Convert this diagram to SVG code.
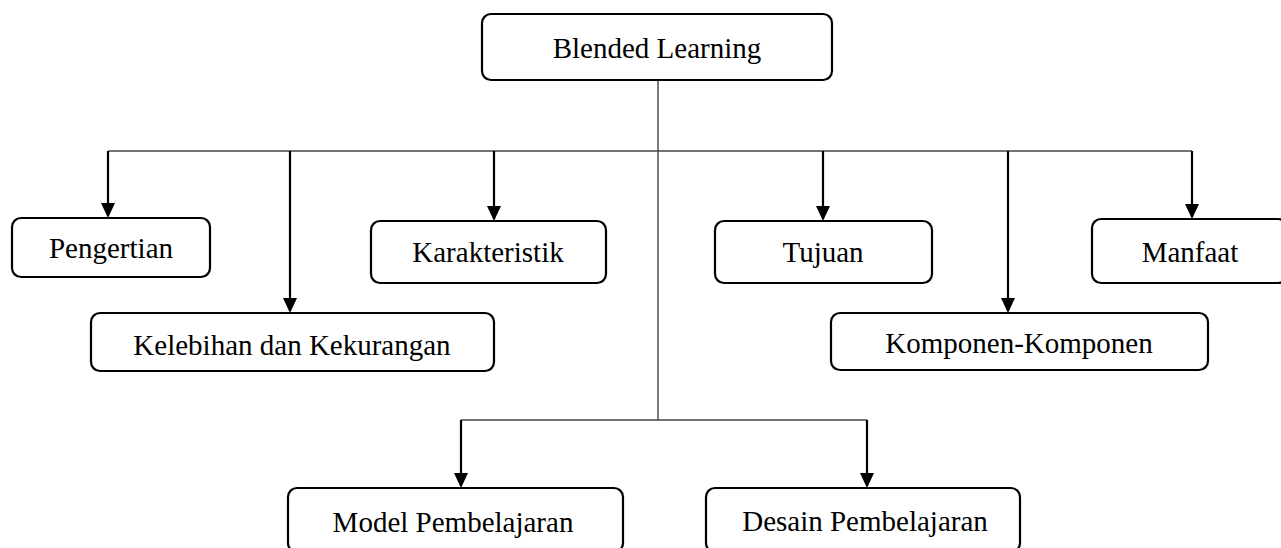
<svg xmlns="http://www.w3.org/2000/svg" width="1281" height="548" viewBox="0 0 1281 548">
<style>
.box{fill:#fff;stroke:#000;stroke-width:2.2}
.lbl{font-family:"Liberation Serif","Times New Roman",serif;font-size:29px;fill:#000;text-anchor:middle}
.trunk{fill:none;stroke:#444;stroke-width:1.4}
.arr{fill:none;stroke:#000;stroke-width:2.2;marker-end:url(#ah)}
</style>
<defs>
<marker id="ah" viewBox="0 0 15 14" refX="13" refY="7" markerWidth="15" markerHeight="14" markerUnits="userSpaceOnUse" orient="auto">
<path d="M0,0 L15,7 L0,14 Z" fill="#000"/>
</marker>
</defs>
<rect width="1281" height="548" fill="#fff"/>
<g id="connectors">
<path class="trunk" d="M658,80 V420"/>
<path class="trunk" d="M108,151 H1192"/>
<path class="trunk" d="M461,420 H867"/>
<path class="arr" d="M108,151 V216"/>
<path class="arr" d="M290,151 V311"/>
<path class="arr" d="M494,151 V219"/>
<path class="arr" d="M823,151 V219"/>
<path class="arr" d="M1008,151 V311"/>
<path class="arr" d="M1192,151 V217"/>
<path class="arr" d="M461,420 V486"/>
<path class="arr" d="M867,420 V486"/>
</g>
<g id="n-blended"><rect class="box" x="482" y="14" width="350" height="66" rx="9"/><text class="lbl" x="657" y="58">Blended Learning</text></g>
<g id="n-pengertian"><rect class="box" x="12" y="218" width="198" height="59" rx="9"/><text class="lbl" x="111" y="258">Pengertian</text></g>
<g id="n-kelebihan"><rect class="box" x="91" y="313" width="403" height="58" rx="9"/><text class="lbl" x="292" y="355">Kelebihan dan Kekurangan</text></g>
<g id="n-karakteristik"><rect class="box" x="371" y="221" width="235" height="62" rx="9"/><text class="lbl" x="488" y="262">Karakteristik</text></g>
<g id="n-tujuan"><rect class="box" x="715" y="221" width="217" height="62" rx="9"/><text class="lbl" x="823" y="262">Tujuan</text></g>
<g id="n-komponen"><rect class="box" x="831" y="313" width="377" height="57" rx="9"/><text class="lbl" x="1019" y="353">Komponen-Komponen</text></g>
<g id="n-manfaat"><rect class="box" x="1092" y="219" width="195" height="64" rx="9"/><text class="lbl" x="1190" y="262">Manfaat</text></g>
<g id="n-model"><rect class="box" x="288" y="488" width="335" height="64" rx="9"/><text class="lbl" x="453" y="532">Model Pembelajaran</text></g>
<g id="n-desain"><rect class="box" x="706" y="488" width="314" height="64" rx="9"/><text class="lbl" x="865" y="531">Desain Pembelajaran</text></g>
</svg>
